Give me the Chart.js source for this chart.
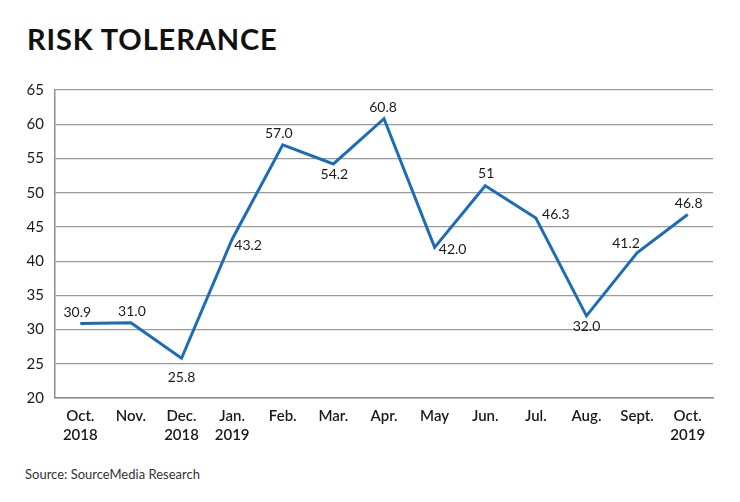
<!DOCTYPE html>
<html>
<head>
<meta charset="utf-8">
<script src="https://cdn.jsdelivr.net/npm/chart.js@4"></script>
<style>
  html, body { margin: 0; padding: 0; background: #fff; }
  body { width: 740px; height: 502px; position: relative; overflow: hidden; font-family: Lato, "Open Sans", sans-serif; }
  #title { position: absolute; left: 27px; top: 21px; font-size: 29px; font-weight: 700; color: #111; letter-spacing: 0.9px; }
  #source { position: absolute; left: 25px; top: 466px; font-size: 13px; color: #333; }
  #wrap { position: absolute; left: 0; top: 0; width: 740px; height: 460px; }
</style>
</head>
<body>
<div id="title">RISK TOLERANCE</div>
<div id="wrap"><canvas id="c"></canvas></div>
<div id="source">Source: SourceMedia Research</div>
<script>
const categories = [["Oct.", "2018"], "Nov.", ["Dec.", "2018"], ["Jan.", "2019"], "Feb.", "Mar.", "Apr.", "May", "Jun.", "Jul.", "Aug.", "Sept.", ["Oct.", "2019"]];
const riskValues = [30.9, 31.0, 25.8, 43.2, 57.0, 54.2, 60.8, 42.0, 51, 46.3, 32.0, 41.2, 46.8];
const valueLabels = ["30.9", "31.0", "25.8", "43.2", "57.0", "54.2", "60.8", "42.0", "51", "46.3", "32.0", "41.2", "46.8"];
// label placement offsets relative to each point (dx, dy) in px
const labelOffsets = [[-3, -11], [1, -11], [0, 19], [16, 6], [-4, -11], [1, 11], [-1, -11], [18, 2], [1, -12], [20, -4], [0, 11], [-11, -9], [1, -11]];

const labelPlugin = {
  id: 'pointLabels',
  afterDatasetsDraw(chart) {
    const ctx = chart.ctx;
    const meta = chart.getDatasetMeta(0);
    ctx.save();
    ctx.font = '14px Lato, "Open Sans", sans-serif';
    ctx.fillStyle = '#1a1a1a';
    ctx.textAlign = 'center';
    ctx.textBaseline = 'middle';
    meta.data.forEach((pt, i) => {
      const o = labelOffsets[i];
      ctx.fillText(valueLabels[i], pt.x + o[0], pt.y + o[1]);
    });
    ctx.restore();
  }
};

new Chart(document.getElementById('c'), {
  type: 'line',
  data: {
    labels: categories,
    datasets: [{
      data: riskValues,
      borderColor: '#1c6db6',
      borderWidth: 3,
      pointRadius: 0,
      tension: 0,
      fill: false
    }]
  },
  options: {
    responsive: true,
    maintainAspectRatio: false,
    animation: false,
    layout: { padding: { left: 0, right: 27, top: 90, bottom: 0 } },
    plugins: { legend: { display: false }, tooltip: { enabled: false } },
    scales: {
      x: {
        offset: true,
        grid: { display: false, drawTicks: false },
        border: { display: true, color: '#8c8c8c', width: 1.5 },
        ticks: {
          color: '#1a1a1a',
          padding: 8,
          maxRotation: 0,
          autoSkip: false,
          font: { family: 'Lato, "Open Sans", sans-serif', size: 15, weight: '600', lineHeight: 1.3 }
        },
        afterFit(scale) { scale.height = 62; }
      },
      y: {
        min: 20,
        max: 65,
        grid: { color: '#9a9a9a', lineWidth: 1.2, drawTicks: false },
        border: { display: true, color: '#8c8c8c', width: 1.5 },
        ticks: {
          stepSize: 5,
          color: '#1a1a1a',
          padding: 11,
          font: { family: 'Lato, "Open Sans", sans-serif', size: 15 }
        },
        afterFit(scale) { scale.width = 55; }
      }
    }
  },
  plugins: [labelPlugin]
});
</script>
</body>
</html>
